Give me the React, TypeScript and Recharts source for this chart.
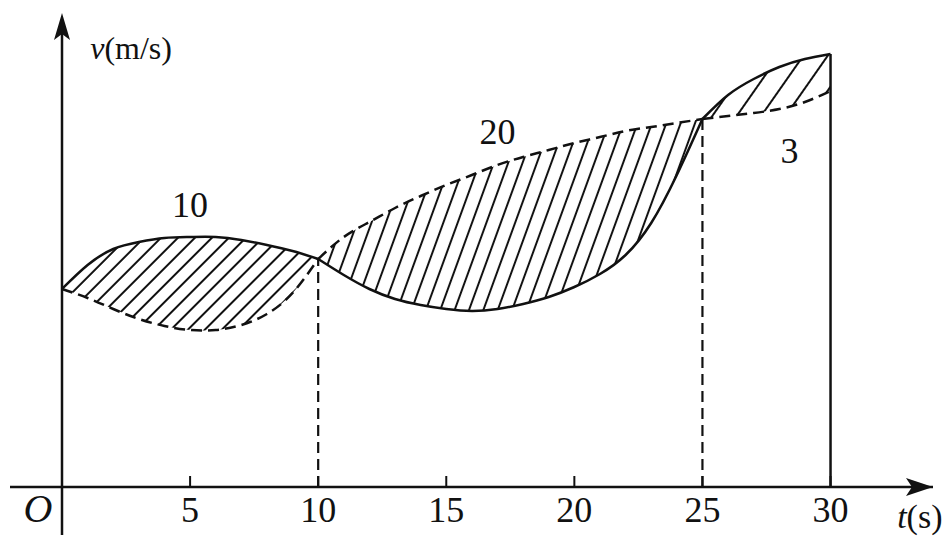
import React from 'react';
import { ComposedChart, Line, Area, XAxis, YAxis, ReferenceLine, ReferenceDot } from 'recharts';

// time grid (s)
const times = [0, 1, 2, 3, 4, 5, 6, 7, 8, 9, 10, 11, 12, 13, 14, 15, 16, 17, 18, 19, 20, 21, 22, 23, 24, 25, 26, 27, 28, 29, 30];
// solid curve v (m/s)
const solidV = [19.8, 22.2, 23.8, 24.5, 24.9, 25.0, 25.0, 24.7, 24.2, 23.6, 22.8, 21.2, 19.8, 18.8, 18.2, 17.8, 17.6, 17.8, 18.3, 19.0, 20.0, 21.3, 23.2, 26.4, 31.2, 36.8, 39.2, 40.8, 42.0, 42.8, 43.3];
// dashed curve v (m/s)
const dashedV = [19.8, 18.9, 17.8, 16.8, 16.1, 15.7, 15.7, 16.2, 17.3, 19.4, 22.8, 25.0, 26.5, 27.9, 29.1, 30.2, 31.2, 32.2, 33.0, 33.7, 34.4, 35.0, 35.6, 36.0, 36.4, 36.8, 37.1, 37.4, 37.8, 38.5, 39.6];
// x tick labels
const tickValues = [5, 10, 15, 20, 25, 30];
// hatched segments [start, end]
const segments = [[0, 10], [10, 25], [25, 30]];
// area annotations
const areaLabels = ['10', '20', '3'];
const areaLabelT = [5.0, 17.0, 28.4];
const areaLabelV = [28.2, 35.5, 33.6];
// dashed guide lines and solid end line
const dashedGuideT = [10, 25];
const endT = 30;

const X_MIN = -2.03;
const X_MAX = 34;
const Y_MIN = -4.8;
const Y_MAX = 47.4;

const INK = '#111';
const FONT = '"Liberation Serif", "Times New Roman", serif';
const CURVE = 'natural';

const data = times.map((t, i) => {
  const row: any = { t, solid: solidV[i], dashed: dashedV[i] };
  segments.forEach(([a, b], k) => {
    const inSeg = t >= a && t <= b;
    row['s' + k] = inSeg ? solidV[i] : null;
    row['d' + k] = inSeg ? dashedV[i] : null;
    row['r' + k] = inSeg ? [Math.min(solidV[i], dashedV[i]), Math.max(solidV[i], dashedV[i])] : null;
  });
  return row;
});

const vAt = (t: number) => solidV[times.indexOf(t)];

const hatch = [
  { angle: 45, gap: 12 },
  { angle: 20, gap: 13.5 },
  { angle: 35, gap: 20 },
];

const Tick = (props: any) => {
  const { x, y, payload } = props;
  return (
    <g>
      <line x1={x} y1={y} x2={x} y2={y - 11} stroke={INK} strokeWidth={2} />
      <text x={x} y={y + 35} textAnchor="middle" fontFamily={FONT} fontSize={36} fill={INK}>
        {payload.value}
      </text>
    </g>
  );
};

const textShape = (content: React.ReactNode, size: number, anchor: string = 'middle') => (p: any) => (
  <text x={p.cx} y={p.cy} textAnchor={anchor} dominantBaseline="central" fontFamily={FONT} fontSize={size} fill={INK}>
    {content}
  </text>
);

const arrowRight = (p: any) => (
  <path d={`M${p.cx},${p.cy} L${p.cx - 27},${p.cy - 9} L${p.cx - 21},${p.cy} L${p.cx - 27},${p.cy + 9} Z`} fill={INK} />
);
const arrowUp = (p: any) => (
  <path d={`M${p.cx},${p.cy} L${p.cx - 8},${p.cy + 27} L${p.cx},${p.cy + 21} L${p.cx + 8},${p.cy + 27} Z`} fill={INK} />
);

export default function App() {
  return (
    <div style={{ position: 'absolute', left: 0, top: 0, width: 946, height: 541, background: '#fff' }}>
      <svg width={0} height={0} style={{ position: 'absolute' }}>
        <defs>
          {hatch.map((h, k) => (
            <pattern
              key={k}
              id={'hatch' + k}
              patternUnits="userSpaceOnUse"
              width={h.gap}
              height={h.gap}
              patternTransform={`rotate(${h.angle})`}
            >
              <line x1={h.gap / 2} y1={0} x2={h.gap / 2} y2={h.gap} stroke={INK} strokeWidth={2} />
            </pattern>
          ))}
        </defs>
      </svg>
      <ComposedChart width={946} height={541} data={data} margin={{ top: 13, right: 13, left: 10, bottom: 0 }}>
        <XAxis
          dataKey="t"
          type="number"
          domain={[X_MIN, X_MAX]}
          ticks={tickValues}
          tick={<Tick />}
          tickLine={false}
          tickSize={0}
          tickMargin={0}
          height={54}
          axisLine={{ stroke: INK, strokeWidth: 2.5 }}
          allowDataOverflow
        />
        <YAxis type="number" domain={[0, Y_MAX]} hide allowDataOverflow />
        {segments.map((_, k) => (
          <Area
            key={'a' + k}
            dataKey={'r' + k}
            type={CURVE}
            stroke="none"
            fill={`url(#hatch${k})`}
            fillOpacity={1}
            dot={false}
            activeDot={false}
            isAnimationActive={false}
          />
        ))}
        <ReferenceLine
          segment={[{ x: 0, y: Y_MIN }, { x: 0, y: Y_MAX - 1 }]}
          stroke={INK}
          strokeWidth={2.5}
          ifOverflow="visible"
        />
        {dashedGuideT.map((t) => (
          <ReferenceLine
            key={'g' + t}
            segment={[{ x: t, y: 0 }, { x: t, y: vAt(t) }]}
            stroke={INK}
            strokeWidth={2.2}
            strokeDasharray="11 6"
            ifOverflow="visible"
          />
        ))}
        <ReferenceLine
          segment={[{ x: endT, y: 0 }, { x: endT, y: vAt(endT) }]}
          stroke={INK}
          strokeWidth={2.5}
          ifOverflow="visible"
        />
        {segments.map((_, k) => (
          <Line key={'d' + k} dataKey={'d' + k} type={CURVE} stroke={INK} strokeWidth={2.5} strokeDasharray="11 6" dot={false} activeDot={false} isAnimationActive={false} />
        ))}
        {segments.map((_, k) => (
          <Line key={'s' + k} dataKey={'s' + k} type={CURVE} stroke={INK} strokeWidth={2.5} dot={false} activeDot={false} isAnimationActive={false} />
        ))}
        <ReferenceDot x={X_MAX} y={0} r={0} ifOverflow="visible" shape={arrowRight} />
        <ReferenceDot x={0} y={Y_MAX} r={0} ifOverflow="visible" shape={arrowUp} />
        {areaLabels.map((s, k) => (
          <ReferenceDot key={'l' + k} x={areaLabelT[k]} y={areaLabelV[k]} r={0} ifOverflow="visible" shape={textShape(s, 36)} />
        ))}
        <ReferenceDot
          x={1.1}
          y={43.9}
          r={0}
          ifOverflow="visible"
          shape={textShape(
            <>
              <tspan fontStyle="italic">v</tspan>
              <tspan>(m/s)</tspan>
            </>,
            32,
            'start'
          )}
        />
        <ReferenceDot x={-0.94} y={-2.1} r={0} ifOverflow="visible" shape={textShape(<tspan fontStyle="italic">O</tspan>, 40)} />
        <ReferenceDot
          x={32.6}
          y={-2.9}
          r={0}
          ifOverflow="visible"
          shape={textShape(
            <>
              <tspan fontStyle="italic">t</tspan>
              <tspan>(s)</tspan>
            </>,
            34,
            'start'
          )}
        />
      </ComposedChart>
    </div>
  );
}
